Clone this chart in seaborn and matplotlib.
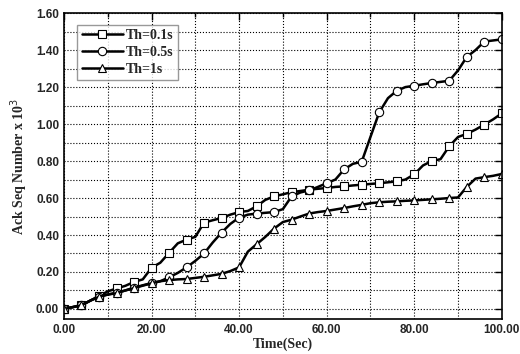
import numpy as np
import pandas as pd
import seaborn as sns
import matplotlib.pyplot as plt
from matplotlib.ticker import MultipleLocator, FormatStrFormatter

# 数据: 每2秒一个点, 每4秒一个标记
time = list(range(0, 101, 2))
th_01 = [0, 0.01, 0.02, 0.045, 0.07, 0.095, 0.111, 0.125, 0.146, 0.16,
         0.223, 0.25, 0.303, 0.355, 0.375, 0.39, 0.467, 0.48, 0.492, 0.51,
         0.524, 0.53, 0.555, 0.59, 0.609, 0.62, 0.632, 0.638, 0.645, 0.65,
         0.654, 0.66, 0.663, 0.668, 0.672, 0.676, 0.68, 0.685, 0.69, 0.70,
         0.728, 0.776, 0.80, 0.81, 0.88, 0.93, 0.947, 0.97, 0.997, 1.025, 1.058]
th_05 = [0, 0.01, 0.02, 0.045, 0.066, 0.078, 0.088, 0.10, 0.115, 0.128,
         0.14, 0.15, 0.171, 0.195, 0.225, 0.26, 0.30, 0.36, 0.413, 0.46,
         0.494, 0.51, 0.516, 0.52, 0.524, 0.54, 0.609, 0.63, 0.641, 0.66,
         0.68, 0.70, 0.755, 0.785, 0.796, 0.93, 1.063, 1.14, 1.18, 1.20,
         1.207, 1.215, 1.222, 1.228, 1.234, 1.29, 1.363, 1.40, 1.446, 1.452, 1.458]
th_1 = [0, 0.01, 0.02, 0.045, 0.066, 0.078, 0.085, 0.10, 0.113, 0.126,
        0.139, 0.15, 0.156, 0.16, 0.162, 0.168, 0.174, 0.182, 0.19, 0.205,
        0.225, 0.31, 0.35, 0.39, 0.435, 0.47, 0.483, 0.50, 0.516, 0.524,
        0.53, 0.538, 0.546, 0.555, 0.563, 0.572, 0.577, 0.58, 0.582, 0.585,
        0.587, 0.59, 0.593, 0.596, 0.60, 0.603, 0.66, 0.705, 0.713, 0.72, 0.73]
labels = ['Th=0.1s', 'Th=0.5s', 'Th=1s']
markers = ['s', 'o', '^']

sns.set_style('white')
plt.rcParams['font.family'] = ['Liberation Serif', 'DejaVu Serif']

fig = plt.figure(figsize=(5.2, 3.54), dpi=100)
ax = fig.add_axes([0.123, 0.099, 0.842, 0.864])

for ys, lab, mk in zip([th_01, th_05, th_1], labels, markers):
    df = pd.DataFrame({'t': time, 'v': ys})
    sns.lineplot(data=df, x='t', y='v', ax=ax, color='black', lw=1.8,
                 marker=mk, markersize=5.5 if mk != 'o' else 6, markevery=2,
                 markerfacecolor='white', markeredgecolor='black',
                 markeredgewidth=0.8, label=lab)

ax.set_xlim(0, 100)
ax.set_ylim(-0.054, 1.60)
ax.xaxis.set_major_locator(MultipleLocator(20))
ax.xaxis.set_minor_locator(MultipleLocator(10))
ax.yaxis.set_major_locator(MultipleLocator(0.2))
ax.yaxis.set_minor_locator(MultipleLocator(0.1))
ax.xaxis.set_major_formatter(FormatStrFormatter('%.2f'))
ax.yaxis.set_major_formatter(FormatStrFormatter('%.2f'))
ax.grid(True, which='both', color='black', linestyle=':', linewidth=0.8)
ax.tick_params(which='both', direction='in', top=True, right=True, color='black')
ax.tick_params(which='major', length=5, width=1)
ax.tick_params(which='minor', length=3, width=1)
for lab in ax.get_xticklabels() + ax.get_yticklabels():
    lab.set_family(['Liberation Sans', 'DejaVu Sans'])
    lab.set_fontweight('bold')
    lab.set_fontsize(8.5)
for s in ax.spines.values():
    s.set_color('black')
    s.set_linewidth(1.2)

ax.set_xlabel('Time(Sec)', fontsize=10, fontweight='bold', labelpad=1)
ax.set_ylabel('Ack Seq Number x 10$^3$', fontsize=10, fontweight='bold', labelpad=4)

leg = ax.legend(loc='upper left', frameon=True, fancybox=False, handlelength=3.0,
                prop={'family': 'Liberation Serif', 'weight': 'bold', 'size': 10},
                borderpad=0.3, labelspacing=0.3, handletextpad=0.2,
                bbox_to_anchor=(0.015, 0.985))
leg.get_frame().set_edgecolor('gray')
leg.get_frame().set_linewidth(1)

fig.savefig('out.png', dpi=100)
